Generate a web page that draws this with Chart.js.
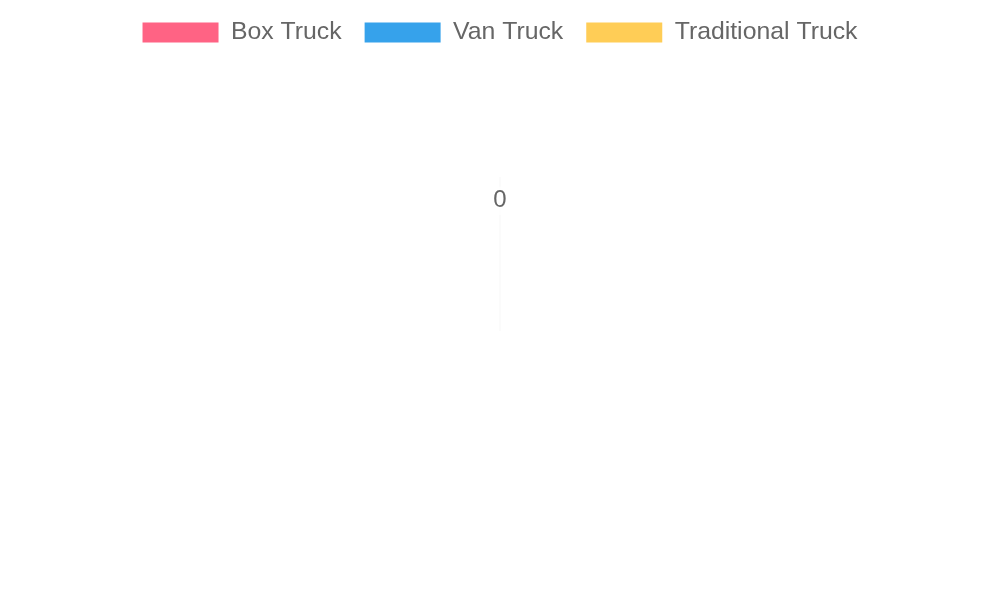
<!DOCTYPE html>
<html>
<head>
<meta charset="utf-8">
<title>Truck Types</title>
<script src="https://cdn.jsdelivr.net/npm/chart.js@4/dist/chart.umd.min.js"></script>
<style>
    html, body { margin: 0; padding: 0; background: #fff; }
    #wrap { width: 1000px; height: 600px; position: relative; }
</style>
</head>
<body>
<div id="wrap"><canvas id="truckChart"></canvas></div>
<script>
// --- data ---
const categories = [''];
const boxTruck = [0];
const vanTruck = [0];
const traditionalTruck = [0];
const tickValues = [0];

const seriesNames = ['Box Truck', 'Van Truck', 'Traditional Truck'];
const seriesColors = ['#ff6384', '#36a2eb', '#ffcd56'];

const textColor = '#666';
const fontFamily = "'Liberation Sans', Arial, Helvetica, sans-serif";
const fontSize = 24.8;
const legendGap = 109; // empty space between legend and the radar

const datasets = [boxTruck, vanTruck, traditionalTruck].map((values, i) => ({
    label: seriesNames[i],
    data: values,
    backgroundColor: seriesColors[i],
    borderColor: seriesColors[i],
    borderWidth: 0,
    pointRadius: 0,
    pointHoverRadius: 0
}));

// push the plot area down under the legend
const legendSpacer = {
    id: 'legendSpacer',
    beforeInit(chart) {
        const origFit = chart.legend.fit;
        chart.legend.fit = function () {
            origFit.call(this);
            this.height += legendGap;
        };
    }
};

new Chart(document.getElementById('truckChart'), {
    type: 'radar',
    data: { labels: categories, datasets },
    plugins: [legendSpacer],
    options: {
        responsive: true,
        maintainAspectRatio: false,
        animation: false,
        layout: { padding: { top: -3, bottom: 100 } },
        plugins: {
            legend: {
                position: 'top',
                labels: {
                    color: textColor,
                    boxWidth: 76,
                    boxHeight: 20,
                    padding: 23,
                    font: { size: fontSize, family: fontFamily }
                }
            },
            tooltip: { enabled: false }
        },
        scales: {
            r: {
                min: -11,
                max: 2,
                afterBuildTicks: (scale) => {
                    scale.ticks = tickValues.map(v => ({ value: v }));
                },
                angleLines: { color: 'rgba(0,0,0,0.03)' },
                grid: { color: 'rgba(0,0,0,0.03)' },
                pointLabels: { display: false },
                ticks: {
                    color: textColor,
                    font: { size: 24, family: fontFamily },
                    backdropColor: 'rgba(255,255,255,0.75)'
                }
            }
        }
    }
});
</script>
</body>
</html>
